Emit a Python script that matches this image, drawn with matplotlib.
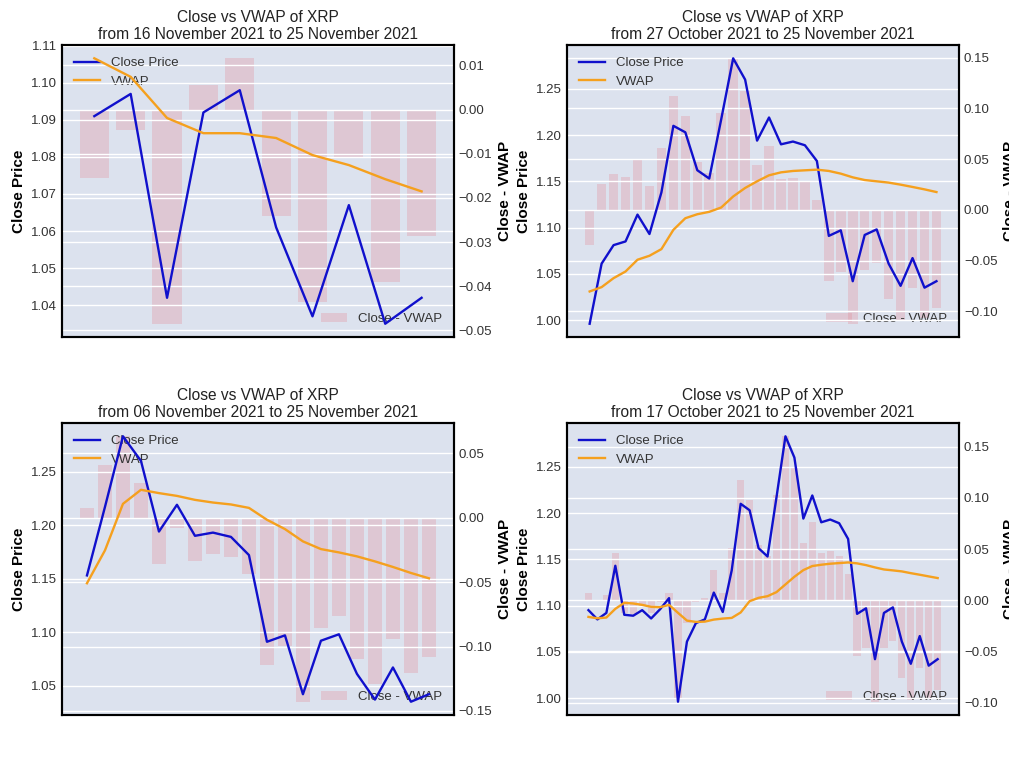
import numpy as np
import matplotlib.pyplot as plt

plt.rcParams['font.family'] = ['Liberation Sans', 'DejaVu Sans']

# daily XRP close, 17 Oct 2021 .. 25 Nov 2021
close_oct17_26 = [1.095, 1.085, 1.092, 1.143, 1.090, 1.089, 1.095, 1.086, 1.096, 1.108]
close_oct27_nov25 = [0.996, 1.061, 1.081, 1.085, 1.114, 1.093, 1.138, 1.210, 1.203, 1.162,
                     1.153, 1.217, 1.283, 1.260, 1.194, 1.219, 1.190, 1.193, 1.189, 1.172,
                     1.091, 1.097, 1.042, 1.092, 1.098, 1.061, 1.037, 1.067, 1.035, 1.042]
close_all = close_oct17_26 + close_oct27_nov25

# VWAP of each window (anchored on the window start)
vwap_10d = [1.1066, 1.1016, 1.0905, 1.0864, 1.0864, 1.0851, 1.0805, 1.0778, 1.0740, 1.0707]
vwap_30d = [1.0309, 1.0356, 1.0453, 1.0525, 1.0652, 1.0695, 1.0767, 1.0975, 1.1101, 1.1144,
            1.1170, 1.1217, 1.1336, 1.1428, 1.1500, 1.1565, 1.1597, 1.1612, 1.1619, 1.1626,
            1.1612, 1.1583, 1.1543, 1.1514, 1.1500, 1.1486, 1.1464, 1.1439, 1.1413, 1.1384]
vwap_20d = [1.1457, 1.1764, 1.2199, 1.2330, 1.2299, 1.2273, 1.2236, 1.2211, 1.2193, 1.2161,
            1.2050, 1.1963, 1.1848, 1.1776, 1.1745, 1.1708, 1.1661, 1.1609, 1.1553, 1.1503]
vwap_40d = [1.0877, 1.0862, 1.0870, 1.0964, 1.1029, 1.1022, 1.1007, 1.0986, 1.0982, 1.1007,
            1.0921, 1.0837, 1.0823, 1.0826, 1.0848, 1.0859, 1.0866, 1.0925, 1.1047, 1.1083,
            1.1101, 1.1145, 1.1228, 1.1311, 1.1383, 1.1427, 1.1441, 1.1452, 1.1459, 1.1466,
            1.1456, 1.1437, 1.1412, 1.1390, 1.1380, 1.1369, 1.1350, 1.1333, 1.1315, 1.1297]

start_dates = ['16 November 2021', '27 October 2021', '06 November 2021', '17 October 2021']
end_date = '25 November 2021'

BG = '#dce2ee'
TXT = '#333333'


def plot_window(fig, rect, close, vwap, start):
    close = np.array(close)
    vwap = np.array(vwap)
    x = np.arange(len(close))

    ax = fig.add_axes(rect)
    ax2 = ax.twinx()
    # price lines above the bars
    ax.set_zorder(ax2.get_zorder() + 1)
    ax.patch.set_visible(False)
    ax2.patch.set_visible(True)
    ax2.set_facecolor(BG)

    ax2.bar(x, close - vwap, width=0.8, color='#e38b97', alpha=0.3, label='Close - VWAP')
    ax.plot(x, close, color='#1010cc', lw=1.7, label='Close Price')
    ax.plot(x, vwap, color='#f5a01e', lw=1.7, label='VWAP')

    for a in (ax, ax2):
        a.yaxis.grid(True, color='white', lw=1.0)
        a.xaxis.grid(False)
        a.tick_params(length=0, labelsize=9.5, colors=TXT)
        for s in a.spines.values():
            s.set_color('black')
            s.set_linewidth(1.5)
    ax.set_xticks([])

    ax.set_ylabel('Close Price', fontsize=11, fontweight='bold')
    ax2.set_ylabel('Close - VWAP', fontsize=11, fontweight='bold')
    ax.set_title('Close vs VWAP of XRP\nfrom {} to {}'.format(start, end_date),
                 fontsize=11.2, color='#222222', pad=4)

    leg = ax.legend(loc='upper left', frameon=False, fontsize=9.5, labelcolor=TXT)
    leg.set_zorder(1)
    leg2 = ax2.legend(loc='lower right', frameon=False, fontsize=9.5, labelcolor=TXT)
    leg2.set_zorder(1)


fig = plt.figure(figsize=(10.09, 7.57), dpi=100)
w, h = 0.3885, 0.3857
rects = [[0.0614, 0.5548, w, h], [0.562, 0.5548, w, h],
         [0.0614, 0.0555, w, h], [0.562, 0.0555, w, h]]
vwaps = [vwap_10d, vwap_30d, vwap_20d, vwap_40d]

for rect, vwap, start in zip(rects, vwaps, start_dates):
    n = len(vwap)
    plot_window(fig, rect, close_all[-n:], vwap, start)

fig.savefig('out.png', dpi=100)
